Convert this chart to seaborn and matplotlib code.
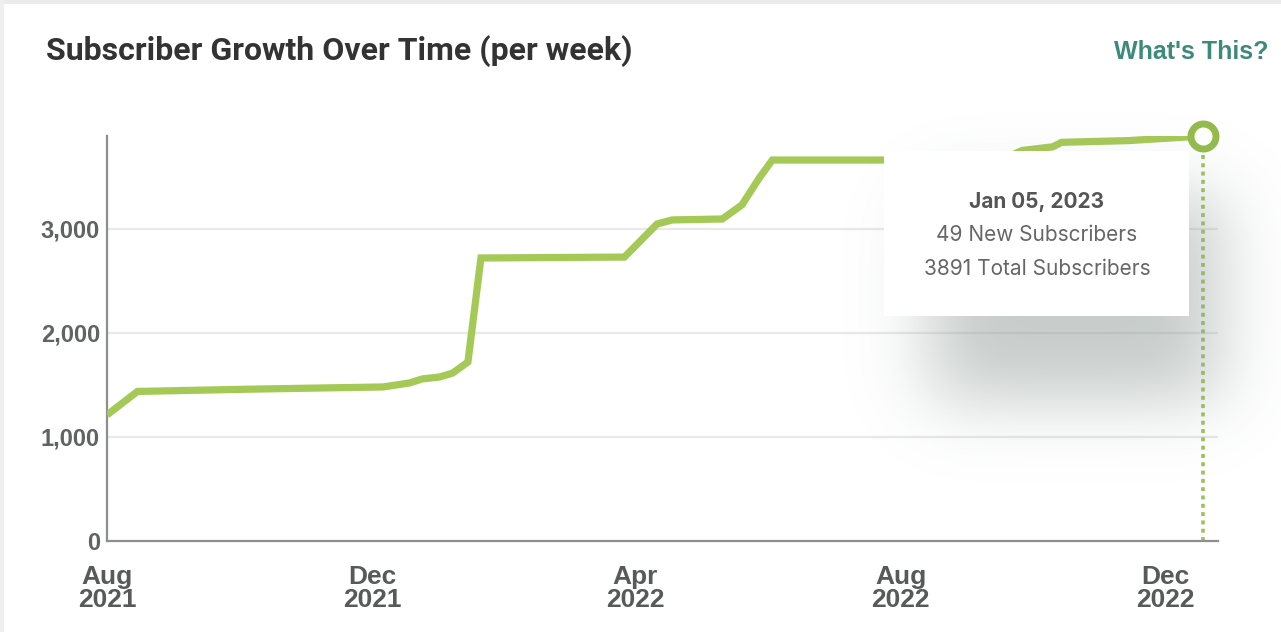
import math
import numpy as np
import pandas as pd
import matplotlib
matplotlib.use("Agg")
import matplotlib.pyplot as plt
from matplotlib.patches import Rectangle
from matplotlib.ticker import FuncFormatter
import seaborn as sns

# ---------------- data ----------------
dates = ["2021-08-01", "2021-08-15", "2021-10-06", "2021-12-06", "2021-12-18",
         "2021-12-24", "2022-01-01", "2022-01-07", "2022-01-14", "2022-01-20",
         "2022-03-27", "2022-04-11", "2022-04-18", "2022-05-11", "2022-05-20",
         "2022-05-28", "2022-06-03", "2022-07-24", "2022-09-19", "2022-09-26",
         "2022-10-10", "2022-10-14", "2022-11-14", "2022-12-11", "2022-12-18"]
subscribers = [1212, 1438, 1460, 1481, 1519,
               1558, 1577, 1615, 1721, 2721,
               2730, 3048, 3087, 3096, 3231,
               3490, 3663, 3663, 3690, 3755,
               3790, 3833, 3850, 3885, 3891]
tick_dates = ["2021-08-01", "2021-12-01", "2022-04-01", "2022-08-01", "2022-12-01"]
tick_labels = ["Aug\n2021", "Dec\n2021", "Apr\n2022", "Aug\n2022", "Dec\n2022"]
y_ticks = [0, 1000, 2000, 3000]
title = "Subscriber Growth Over Time (per week)"
link_text = "What's This?"
tip_date = "Jan 05, 2023"
tip_new = "49 New Subscribers"
tip_total = "3891 Total Subscribers"

df = pd.DataFrame({"date": pd.to_datetime(dates), "subscribers": subscribers})

# ---------------- styling ----------------
sns.set_style("white")
plt.rcParams["font.family"] = ["Liberation Sans", "DejaVu Sans"]

W, H = 1281, 632
fig = plt.figure(figsize=(W / 100, H / 100), dpi=100)
fig.patch.set_facecolor("white")

def fx(px):
    return px / W

def fy(py):
    return 1 - py / H

LINE_GREEN = "#a5c957"
RING_GREEN = "#93bb4b"

left, right, top, bottom = 107, 1218, 136, 541
ax = fig.add_axes([fx(left), fy(bottom), fx(right - left), (bottom - top) / H])
ax.set_facecolor("white")

sns.lineplot(data=df, x="date", y="subscribers", ax=ax, color=LINE_GREEN,
             linewidth=5.2, solid_joinstyle="miter", solid_capstyle="butt",
             zorder=3)

last = df.iloc[-1]
ax.plot([last["date"], last["date"]], [0, last["subscribers"]], color="#9cc25a",
        linewidth=2.6, linestyle=(0, (1.1, 1.2)), zorder=2)
ax.plot([last["date"]], [last["subscribers"]], marker="o", markersize=18,
        markerfacecolor="white", markeredgecolor=RING_GREEN, markeredgewidth=5,
        clip_on=False, zorder=6)

ax.set_xlim(pd.Timestamp("2021-08-01"), pd.Timestamp("2022-12-25"))
ax.set_ylim(0, 3894)
ax.set_xticks(pd.to_datetime(tick_dates))
ax.set_xticklabels(tick_labels)
ax.set_yticks(y_ticks)
ax.yaxis.set_major_formatter(FuncFormatter(lambda v, p: f"{int(v):,}"))
ax.set_xlabel("")
ax.set_ylabel("")

for yv in y_ticks[1:]:
    ax.axhline(yv, color="#e8e8e8", linewidth=1.6, zorder=0)

for s in ["top", "right"]:
    ax.spines[s].set_visible(False)
for s in ["left", "bottom"]:
    ax.spines[s].set_color("#8b908d")
    ax.spines[s].set_linewidth(1.6)

ax.tick_params(axis="both", length=0)
ax.tick_params(axis="x", pad=17)
ax.tick_params(axis="y", pad=5)
for lab in ax.get_yticklabels():
    lab.set_fontsize(17)
    lab.set_fontweight("bold")
    lab.set_color("#5f6361")
for lab in ax.get_xticklabels():
    lab.set_family(["Liberation Sans Narrow", "Liberation Sans", "DejaVu Sans"])
    lab.set_fontsize(19)
    lab.set_fontweight("bold")
    lab.set_color("#575a59")
    lab.set_linespacing(0.95)

# ---------------- overlay: tooltip with shadow, card edges ----------------
ov = fig.add_axes([0, 0, 1, 1], zorder=5)
ov.set_xlim(0, W)
ov.set_ylim(H, 0)
ov.axis("off")
ov.patch.set_alpha(0)

erf = np.vectorize(math.erf)

def blur1d(coords, a, b, sigma):
    return 0.5 * (erf((coords - a) / (math.sqrt(2) * sigma)) -
                  erf((coords - b) / (math.sqrt(2) * sigma)))

xs = np.arange(W) + 0.5
ys = np.arange(H) + 0.5
mask = np.outer(blur1d(ys, 195, 400, 34), blur1d(xs, 930, 1220, 36))
shadow = np.zeros((H, W, 4))
shadow[..., 0] = 0.58
shadow[..., 1] = 0.62
shadow[..., 2] = 0.60
shadow[..., 3] = mask * 0.52
ov.imshow(shadow, extent=(0, W, H, 0), interpolation="bilinear", zorder=1)

ov.add_patch(Rectangle((884, 151), 1189 - 884, 316 - 151, facecolor="white",
                       edgecolor="none", zorder=2))
tip_font = ["Inter", "DejaVu Sans"]
ov.text(1037, 208, tip_date, ha="center", va="baseline", fontsize=15,
        fontweight="bold", color="#555555", family=tip_font, zorder=3)
ov.text(1037, 241, tip_new, ha="center", va="baseline", fontsize=15,
        color="#666666", family=tip_font, zorder=3)
ov.text(1037, 275, tip_total, ha="center", va="baseline", fontsize=15,
        color="#666666", family=tip_font, zorder=3)

# card border shading
ov.add_patch(Rectangle((0, 0), W, 4, facecolor="#ebebeb", edgecolor="none", zorder=4))
ov.add_patch(Rectangle((0, 0), 4, H, facecolor="#efefef", edgecolor="none", zorder=4))

# titles
ov.text(46, 60, title, ha="left", va="baseline", fontsize=23, fontweight="bold",
        color="#333333", family=["Roboto", "DejaVu Sans"], zorder=4)
ov.text(1268, 59, link_text, ha="right", va="baseline", fontsize=18, fontweight="bold",
        color="#3d8a7c", family=["Liberation Sans", "DejaVu Sans"], zorder=4)

fig.savefig("out.png", dpi=100, facecolor="white")
